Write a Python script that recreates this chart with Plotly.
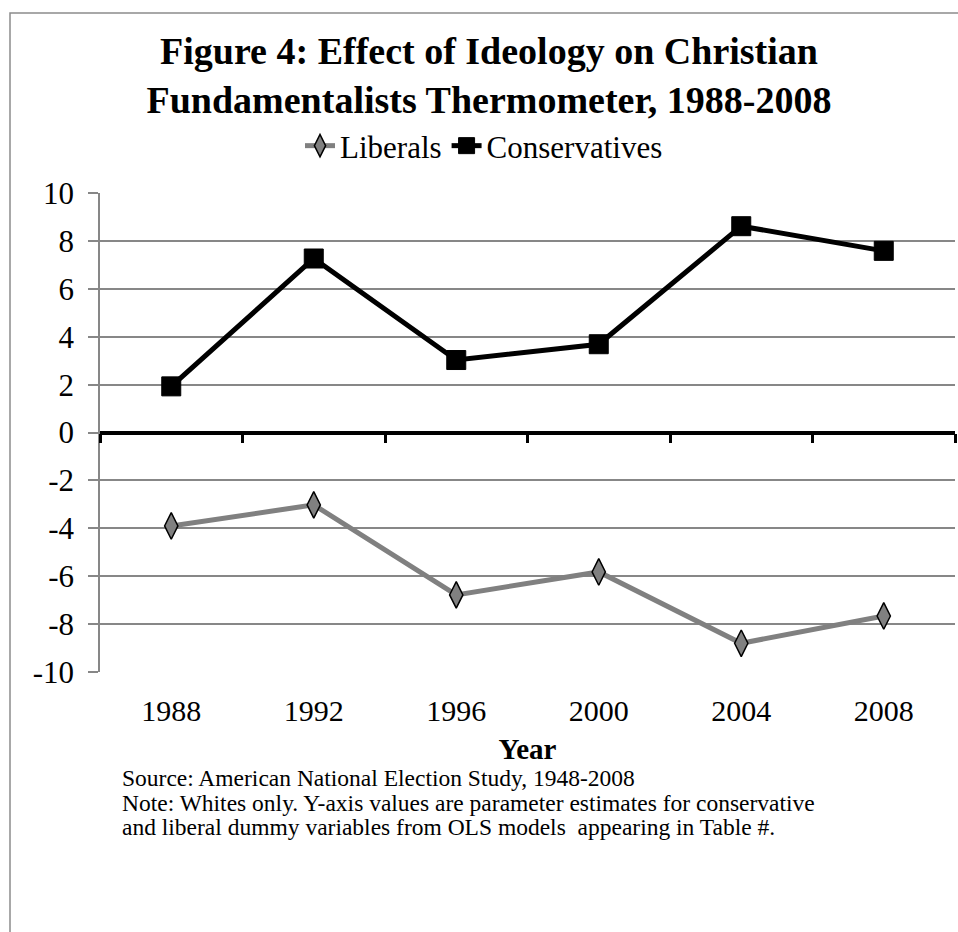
import plotly.graph_objects as go

years = ["1988", "1992", "1996", "2000", "2004", "2008"]
liberals = [-3.9, -3.02, -6.78, -5.82, -8.8, -7.66]
conservatives = [1.93, 7.27, 3.03, 3.69, 8.62, 7.59]
y_ticks = [-10, -8, -6, -4, -2, 0, 2, 4, 6, 8, 10]
y_tick_labels = ["-10", "-8", "-6", "-4", "-2", "0", "2", "4", "6", "8", "10"]
note_lines = [
    "Source: American National Election Study, 1948-2008",
    "Note: Whites only. Y-axis values are parameter estimates for conservative",
    "and liberal dummy variables from OLS models  appearing in Table #.",
]

FONT = "Liberation Serif"
GRID = "#878787"

fig = go.Figure()
fig.add_trace(go.Scatter(
    x=years, y=liberals, name="Liberals", mode="lines+markers",
    line=dict(color="#808080", width=5),
    marker=dict(symbol="diamond-tall", size=19, color="#808080",
                line=dict(color="black", width=1.5)),
))
fig.add_trace(go.Scatter(
    x=years, y=conservatives, name="Conservatives", mode="lines+markers",
    line=dict(color="black", width=5),
    marker=dict(symbol="square", size=19, color="black",
                line=dict(color="black", width=1)),
))
# helper trace so the zero-positioned category axis is rendered
fig.add_trace(go.Scatter(x=years, y=[None] * len(years), xaxis="x2",
                         showlegend=False, hoverinfo="skip", mode="lines"))

note_y = [779, 804, 829]
annotations = [
    dict(text=t, xref="paper", yref="paper", x=(120 - 100) / 855,
         y=(672 - yy) / 484, xanchor="left", yanchor="middle", align="left",
         showarrow=False, font=dict(family=FONT, size=23.5, color="black"))
    for t, yy in zip(note_lines, note_y)
]

fig.update_layout(
    width=958, height=932,
    margin=dict(l=100, r=3, t=188, b=260),
    paper_bgcolor="white", plot_bgcolor="white",
    font=dict(family=FONT, color="black"),
    title=dict(
        text="<b>Figure 4: Effect of Ideology on Christian<br>Fundamentalists Thermometer, 1988-2008</b>",
        font=dict(family=FONT, size=38, color="black"),
        x=489 / 958, xanchor="center", xref="container",
        y=1 - 64 / 932, yanchor="top", yref="container",
    ),
    legend=dict(
        orientation="h", xref="container", yref="container",
        x=484 / 958, xanchor="center", y=1 - 146 / 932, yanchor="middle",
        font=dict(family=FONT, size=31, color="black"),
        bgcolor="rgba(0,0,0,0)",
    ),
    xaxis=dict(
        type="category", categoryorder="array", categoryarray=years,
        range=[-0.5, len(years) - 0.5],
        showline=False, showgrid=False, zeroline=False, ticks="",
        tickfont=dict(family=FONT, size=30, color="black"),
        ticklabelstandoff=18,
        title=dict(text="<b>Year</b>", font=dict(family=FONT, size=29, color="black"),
                   standoff=12),
    ),
    xaxis2=dict(
        type="category", categoryorder="array", categoryarray=years,
        range=[-0.5, len(years) - 0.5],
        overlaying="x", anchor="free", position=0.5, side="bottom",
        showline=True, linecolor="black", linewidth=3.5,
        ticks="outside", tickson="boundaries", ticklen=9, tickwidth=3, tickcolor="black",
        showticklabels=False, showgrid=False, zeroline=False,
    ),
    yaxis=dict(
        range=[-10, 10], tickvals=y_ticks, ticktext=y_tick_labels,
        showgrid=True, gridcolor=GRID, gridwidth=1.5,
        showline=True, linecolor=GRID, linewidth=1.5,
        ticks="outside", ticklen=10, tickcolor=GRID, tickwidth=1.5,
        zeroline=False,
        tickfont=dict(family=FONT, size=31, color="black"),
        ticklabelstandoff=8,
    ),
    annotations=annotations,
    shapes=[dict(
        type="rect", xref="paper", yref="paper",
        x0=(10 - 100) / 855, x1=(975 - 100) / 855,
        y0=(672 - 945) / 484, y1=(672 - 6) / 484,
        line=dict(color="#8c8c8c", width=1.5), fillcolor="rgba(0,0,0,0)",
        layer="below",
    )],
)

fig.write_html("out.html")
